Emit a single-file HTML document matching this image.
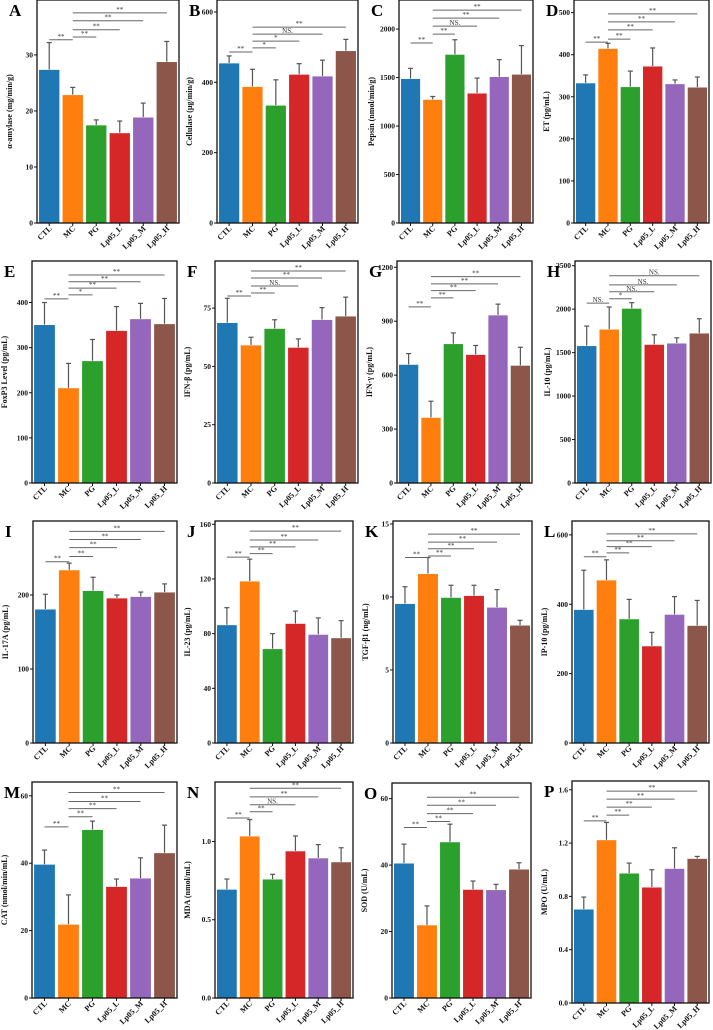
<!DOCTYPE html>
<html><head><meta charset="utf-8">
<style>
html,body{margin:0;padding:0;background:#fff;}
svg{display:block;font-family:"Liberation Serif","DejaVu Serif",serif;}
</style></head>
<body>
<svg id="fig" width="713" height="1030" viewBox="0 0 713 1030" xmlns="http://www.w3.org/2000/svg"></svg>
<script>
const groups = ["CTL","MC","PG","Lp05_L","Lp05_M","Lp05_H"];
const colors = ["#1f77b4","#ff7f0e","#2ca02c","#d62728","#9467bd","#8c564b"];
const letters = ["A","B","C","D","E","F","G","H","I","J","K","L","M","N","O","P"];
const yLabels = ["α-amylase (mg/min/g)","Cellulase (μg/min/g)","Pepsin (nmol/min/g)","ET (pg/mL)","FoxP3 Level (pg/mL)","IFN-β (pg/mL)","IFN-γ (pg/mL)","IL-10 (pg/mL)","IL-17A (pg/mL)","IL-23 (pg/mL)","TGF-β1 (ng/mL)","IP-10 (pg/mL)","CAT (nmol/min/mL)","MDA (nmol/mL)","SOD (U/mL)","MPO (U/mL)"];
const yMax = [39.8,634,2300,530,492,95.2,1235,2554,300,162.4,15.2,640,64.1,1.38,64.7,1.666];
const yTicks = [[0,10,20,30],[0,200,400,600],[0,500,1000,1500,2000],[0,100,200,300,400,500],[0,100,200,300,400],[0,25,50,75],[0,300,600,900,1200],[0,500,1000,1500,2000,2500],[0,100,200],[0,40,80,120,160],[0,5,10,15],[0,200,400,600],[0,20,40,60],[0,0.5,1.0],[0,20,40,60],[0,0.4,0.8,1.2,1.6]];
const tickLabels = [null,null,null,null,null,null,null,null,null,null,null,null,null,["0.0","0.5","1.0"],null,["0.0","0.4","0.8","1.2","1.6"]];
const means = [
[27.4,22.9,17.5,16.1,18.9,28.8],[455,388,335,423,418,490],[1490,1275,1740,1340,1510,1535],[333,415,324,373,331,323],
[351,211,271,338,364,353],[68.8,59.2,66.3,58.2,70.1,71.6],[660,365,775,715,935,655],[1580,1770,2010,1595,1610,1725],
[181,234,206,196,198,204],[86.5,118.5,69,87.5,79.5,77],[9.55,11.6,9.97,10.1,9.3,8.07],[385,470,358,280,371,339],
[39.7,21.9,50,33.1,35.6,43.1],[0.695,1.035,0.76,0.94,0.895,0.87],[40.6,22,47,32.7,32.6,38.8],[0.705,1.225,0.975,0.87,1.01,1.085]];
const errTops = [
[32.2,24.2,18.4,18.2,21.4,32.4],[475,437,407,453,463,522],[1595,1305,1890,1495,1685,1830],[352,427,361,416,340,347],
[400,265,318,391,398,409],[79.2,62.5,70.0,61.8,75.2,79.7],[720,455,835,765,995,755],[1805,2025,2075,1705,1670,1890],
[201,243,224,200,204,215],[99,134.5,80,96.5,91.5,89.5],[10.7,12.7,10.8,10.8,10.5,8.4],[498,528,414,319,422,411],
[43.9,30.6,52.5,35.3,41.6,51.3],[0.76,1.14,0.79,1.035,0.98,0.96],[46.3,27.7,52.3,35.2,34.2,40.7],[0.795,1.355,1.05,1.0,1.165,1.1]];
// significance bracket levels (data units): CTL-MC, MC-PG, MC-L, MC-M, MC-H
const sigLevels = [
[32.7,33.2,34.5,36.1,37.5],[486,498,517,537,557],[1856,1948,2031,2113,2196],[430,437,459,478,497],
[408,417,432,446,461],[80.2,81.5,84.5,87.9,90.9],[980,1030,1070,1108,1148],[2070,2120,2200,2280,2385],
[245,252,264,275,286],[136,138.5,143.5,148.5,155],[12.7,12.8,13.3,13.75,14.3],[537,548,566,583,603],
[50.8,53.8,56.2,58.3,61],[1.15,1.19,1.235,1.285,1.34],[51.3,53.1,55.5,58,60.4],[1.367,1.41,1.47,1.53,1.59]];
const sigText = [
["**","**","**","**","**"],["**","*","*","NS.","**"],["**","**","NS.","**","**"],["**","**","**","**","**"],
["**","*","**","**","**"],["**","**","NS.","**","**"],["**","**","**","**","**"],["NS.","*","NS.","NS.","NS."],
["**","**","**","**","**"],["**","**","**","**","**"],["**","**","**","**","**"],["**","**","**","**","**"],
["**","**","**","**","**"],["**","**","NS.","**","**"],["**","**","**","**","**"],["**","**","**","**","**"]];
const sigPairs = [[0,1],[1,2],[1,3],[1,4],[1,5]];

// layout (pixel boxes for axes)
const boxes = [
[37,0,179,223],[217,0,358,223],[399,0,533,223],[574,0,709,223],
[32,261,177,483],[215,261,358,483],[397,261,532,483],[575,261,711,483],
[33,521,177,743],[215,521,353,743],[393,521,532,743],[572,521,709,743],
[32,782,177,998],[215,782,353,998],[392,783,531,998],[572,781,709,1003]];

const NS="http://www.w3.org/2000/svg";
const svg=document.getElementById('fig');
function mk(tag,attrs,parent){const e=document.createElementNS(NS,tag);for(const k in attrs)e.setAttribute(k,attrs[k]);(parent||svg).appendChild(e);return e;}

for(let p=0;p<16;p++){
  const [L,T,R,B]=boxes[p];
  const g=mk('g',{});
  
  
  const xmin=-0.52,xmax=5.52;
  const xs=v=>L+(v-xmin)/(xmax-xmin)*(R-L);
  const ys=v=>B-v/yMax[p]*(B-T);
  const bw=0.9*(R-L)/(xmax-xmin);
  // bars
  for(let i=0;i<6;i++){
    const r=mk('rect',{x:xs(i)-bw/2,y:ys(means[p][i]),width:bw,height:B-ys(means[p][i]),fill:colors[i],stroke:'#fff','stroke-width':0.8},g);
    
    
    const e=mk('g',{},g);
    
    
    const yt=ys(errTops[p][i]);
    mk('line',{x1:xs(i),x2:xs(i),y1:ys(means[p][i]),y2:yt,stroke:'#555','stroke-width':1.2},e);
    mk('line',{x1:xs(i)-2.5,x2:xs(i)+2.5,y1:yt,y2:yt,stroke:'#555','stroke-width':1.2},e);
  }
  // brackets
  for(let k=0;k<5;k++){
    const [a,b]=sigPairs[k];
    const y=ys(sigLevels[p][k]);
    const s=mk('g',{},g);
    
    
    mk('line',{x1:xs(a),x2:xs(b),y1:y,y2:y,stroke:'#666','stroke-width':1},s);
    const t=mk('text',{x:(xs(a)+xs(b))/2,y:y-1,'text-anchor':'middle','font-size':7,fill:'#333'},s);
    t.textContent=sigText[p][k];
  }
  // frame
  const f=mk('rect',{x:L,y:T,width:R-L,height:B-T,fill:'none',stroke:'#111','stroke-width':1.3},g);
  
  
  // y ticks
  yTicks[p].forEach((v,j)=>{
    const y=ys(v);
    mk('line',{x1:L-3,x2:L,y1:y,y2:y,stroke:'#111','stroke-width':1},g);
    const t=mk('text',{x:L-4,y:y+2.5,'text-anchor':'end','font-size':7.5,'font-weight':'bold',fill:'#111'},g);
    
    
    t.textContent=tickLabels[p]?tickLabels[p][j]:String(v);
  });
  // x labels
  for(let i=0;i<6;i++){
    const x=xs(i);
    mk('line',{x1:x,x2:x,y1:B,y2:B+3,stroke:'#111','stroke-width':1},g);
    const t=mk('text',{x:x+3,y:B+6,'text-anchor':'end','font-size':8,'font-weight':'bold',fill:'#111',transform:`rotate(-45 ${x+3} ${B+6})`},g);
    
    
    t.textContent=groups[i];
  }
  // y label
  const cy=(T+B)/2, lx=L-25;
  const yl=mk('text',{x:lx,y:cy,'text-anchor':'middle','font-size':8,'font-weight':'bold',fill:'#111',transform:`rotate(-90 ${lx} ${cy})`},g);
  
  
  yl.textContent=yLabels[p];
  // panel letter
  const pl=mk('text',{x:L-28,y:T+16,'font-size':17,'font-weight':'bold',fill:'#000'},g);
  
  
  pl.textContent=letters[p];
}
</script>
</body></html>
